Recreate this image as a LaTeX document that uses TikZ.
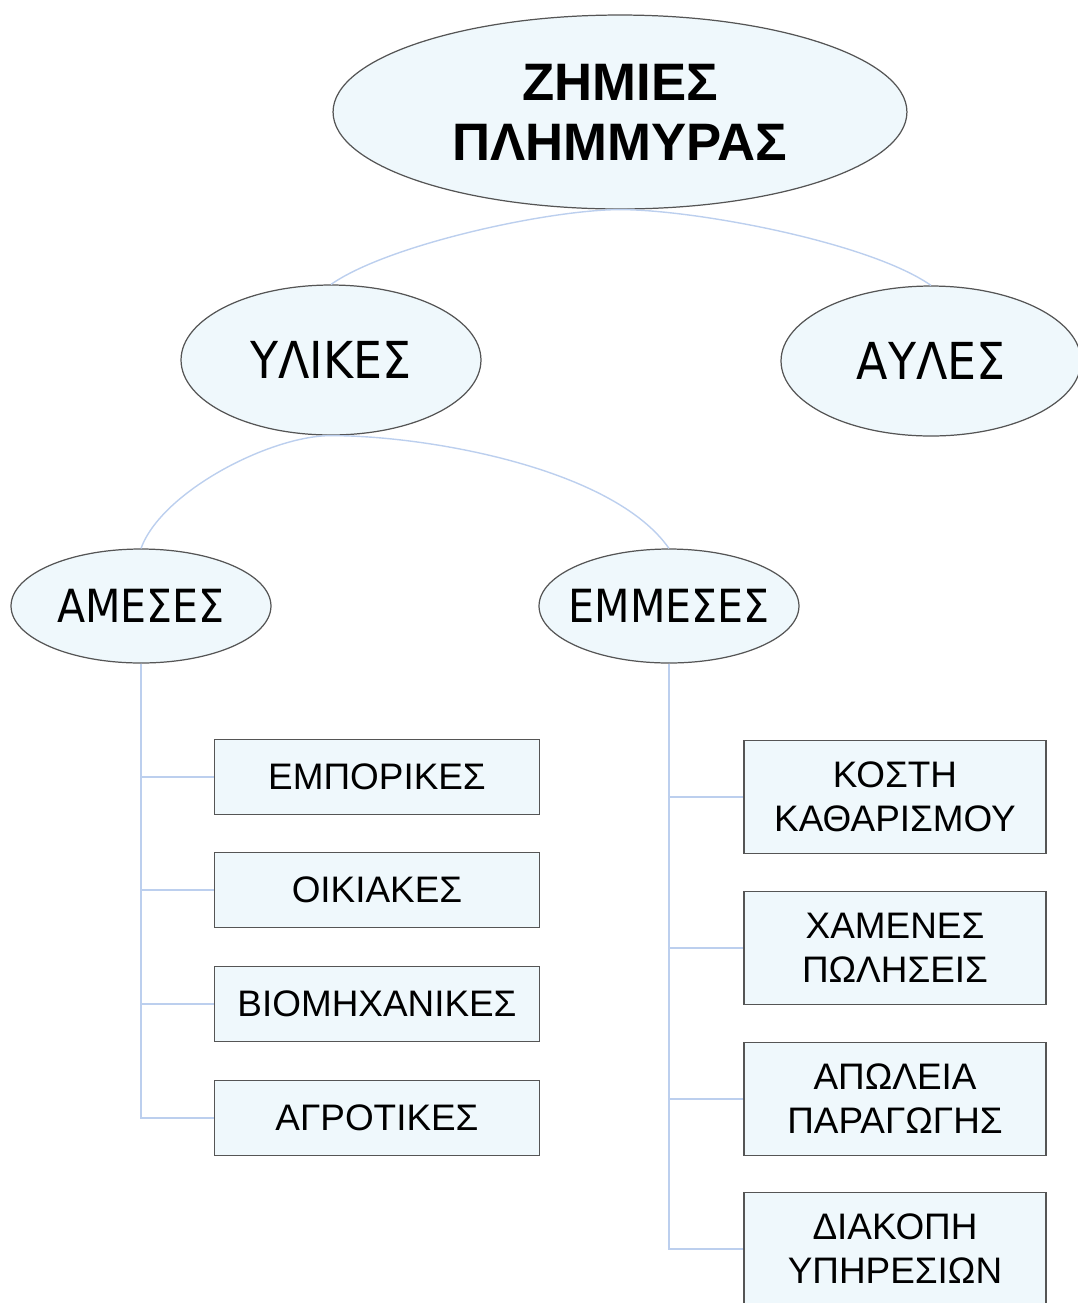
\documentclass[tikz,border=0pt]{standalone}
\usepackage{fontspec}
\setmainfont{Liberation Sans}
\newfontfamily\condfont{DejaVu Sans Condensed}
\usetikzlibrary{shapes.geometric}
\definecolor{linkblue}{RGB}{188,207,238}
\definecolor{paleblue}{RGB}{239,248,252}
\definecolor{edgegray}{RGB}{85,85,85}

\tikzset{
  bubble/.style={ellipse, draw=edgegray, line width=0.7pt, fill=paleblue, inner sep=0pt},
  topbubble/.style={bubble, minimum width=11.48cm, minimum height=3.88cm, align=center,
    font={\fontsize{30}{34}\selectfont\bfseries}},
  midbubble/.style={bubble, minimum width=6cm, minimum height=3cm, font={\condfont\fontsize{29}{34}\selectfont}},
  lowbubble/.style={bubble, inner xsep=-4mm, minimum width=5.2cm, minimum height=2.28cm,
    font={\condfont\fontsize{26}{30}\selectfont}},
  itembox/.style={rectangle, draw=edgegray, line width=0.7pt, fill=paleblue, align=center,
    font={\fontsize{21}{25}\selectfont}},
  leftbox/.style={itembox, minimum width=6.5cm, minimum height=1.5cm},
  rightbox/.style={itembox, minimum width=6.04cm, minimum height=2.26cm},
  link/.style={draw=linkblue, line width=0.8pt}
}

\begin{document}
\begin{tikzpicture}[x=0.02cm, y=-0.02cm]
    \useasboundingbox (0,0) rectangle (1078,1303);
    % upper levels
    \node[topbubble] (zhmies) at (620,112) {ΖΗΜΙΕΣ\\ΠΛΗΜΜΥΡΑΣ};
    \node[midbubble] (ylikes) at (331,360) {ΥΛΙΚΕΣ};
    \node[midbubble] (ayles) at (931,361) {ΑΥΛΕΣ};
    \node[lowbubble] (ameses) at (141,606) {ΑΜΕΣΕΣ};
    \node[lowbubble] (emmeses) at (669,606) {ΕΜΜΕΣΕΣ};
    % direct losses
    \node[leftbox] (emp) at (377,777) {ΕΜΠΟΡΙΚΕΣ};
    \node[leftbox] (oik) at (377,890) {ΟΙΚΙΑΚΕΣ};
    \node[leftbox] (bio) at (377,1004) {ΒΙΟΜΗΧΑΝΙΚΕΣ};
    \node[leftbox] (agr) at (377,1118) {ΑΓΡΟΤΙΚΕΣ};
    % indirect losses
    \node[rightbox] (kos) at (895,797) {ΚΟΣΤΗ\\ΚΑΘΑΡΙΣΜΟΥ};
    \node[rightbox] (xam) at (895,948) {ΧΑΜΕΝΕΣ\\ΠΩΛΗΣΕΙΣ};
    \node[rightbox] (apo) at (895,1099) {ΑΠΩΛΕΙΑ\\ΠΑΡΑΓΩΓΗΣ};
    \node[rightbox] (dia) at (895,1249) {ΔΙΑΚΟΠΗ\\ΥΠΗΡΕΣΙΩΝ};
    % arcs
    \draw[link] (zhmies.south) to[out=180, in=35, looseness=0.6] (ylikes.north);
    \draw[link] (zhmies.south) to[out=0, in=145, looseness=0.6] (ayles.north);
    \draw[link] (ylikes.south) to[out=180, in=70, looseness=0.7] (ameses.north);
    \draw[link] (ylikes.south) to[out=0, in=125, looseness=0.7] (emmeses.north);
    % branches
    \foreach \leaf in {emp,oik,bio,agr}
      \draw[link] (ameses.south) |- (\leaf.west);
    \foreach \leaf in {kos,xam,apo,dia}
      \draw[link] (emmeses.south) |- (\leaf.west);
\end{tikzpicture}
\end{document}
